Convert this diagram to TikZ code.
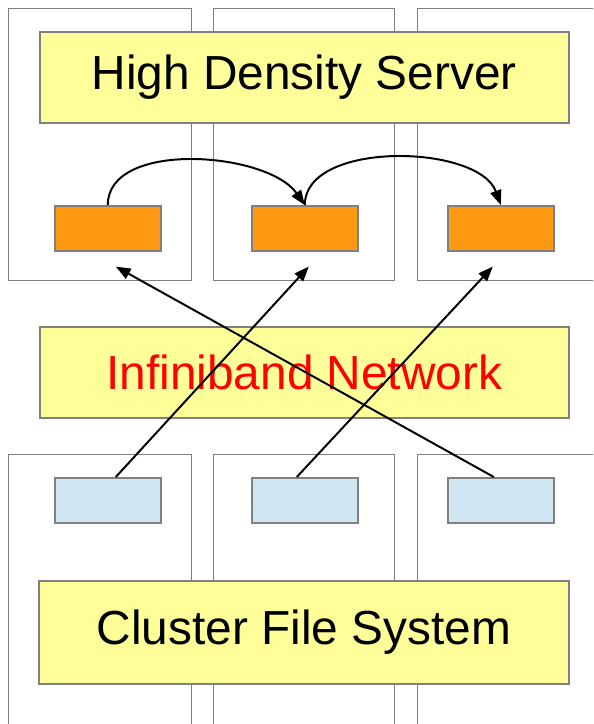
\documentclass[tikz,border=0pt]{standalone}
\usepackage{fontspec}
\setmainfont{Liberation Sans}
\usetikzlibrary{arrows.meta, calc}
\newlength\pxu
\setlength\pxu{0.025cm}
\definecolor{bandY}{HTML}{FFFF99}
\definecolor{cpuO}{HTML}{FF9912}
\definecolor{diskB}{HTML}{D0E6F3}
\definecolor{frame}{HTML}{808080}
\tikzset{
  panel/.style={
    draw=frame, fill=white, line width=1.3\pxu,
    minimum width=#1\pxu, minimum height=272\pxu,
    anchor=north west, inner sep=0pt
  },
  panel/.default=183,
  layer/.style={
    draw=frame, fill=bandY, line width=1.6\pxu,
    minimum width=529\pxu, minimum height=91\pxu,
    anchor=north west, inner sep=0pt,
    font=\fontsize{34}{40}\selectfont
  },
  unit/.style={
    draw=frame, fill=#1, line width=1.6\pxu,
    minimum width=106\pxu, minimum height=45\pxu,
    anchor=north west, inner sep=0pt
  },
  link/.style={-{Triangle[length=10.5pt, width=8pt]}, line width=1.4pt, black}
}

\begin{document}
\begin{tikzpicture}[x=1\pxu, y=1\pxu]
    \clip (0,0) rectangle (593,-724);
    \fill[white] (0,0) rectangle (593,-724);

    % Server panels
    \node[panel] (sp1) at (8,-8) {};
    \node[panel=181] (sp2) at (213,-8) {};
    \node[panel] (sp3) at (417,-8) {};

    % Storage panels
    \node[panel, minimum height=300\pxu] (fp1) at (8,-454) {};
    \node[panel=181, minimum height=300\pxu] (fp2) at (213,-454) {};
    \node[panel, minimum height=300\pxu] (fp3) at (417,-454) {};

    % Layers
    \node[layer] (hds) at (39,-31) {High Density Server};
    \node[layer] (ib) at (39,-326) {\color{red}Infiniband Network};
    \node[layer, minimum width=530\pxu, minimum height=103\pxu] (cfs) at (38,-580) {Cluster File System};

    % Compute units
    \node[unit=cpuO] (o1) at (54,-205) {};
    \node[unit=cpuO] (o2) at (251,-205) {};
    \node[unit=cpuO] (o3) at (447,-205) {};

    % Storage units
    \node[unit=diskB] (d1) at (54,-477) {};
    \node[unit=diskB] (d2) at (251,-477) {};
    \node[unit=diskB] (d3) at (447,-477) {};

    % Arrow ends below the compute units
    \coordinate (e1) at ($(o1.south)+(8,-15)$);
    \coordinate (e2) at ($(o2.south)+(4,-15)$);
    \coordinate (e3) at ($(o3.south)+(-8,-15)$);

    % Migration arcs
    \draw[link] (o1.north) to[out=90, in=125, looseness=0.85] (o2.north);
    \draw[link] (o2.north) to[out=90, in=110, looseness=0.85] (o3.north);

    % Storage to compute
    \draw[link] ($(d1.north)+(8,0)$) -- (e2);
    \draw[link] ($(d2.north)+(-8,0)$) -- (e3);
    \draw[link] ($(d3.north)+(-7,0)$) -- (e1);
  \end{tikzpicture}
\end{document}
